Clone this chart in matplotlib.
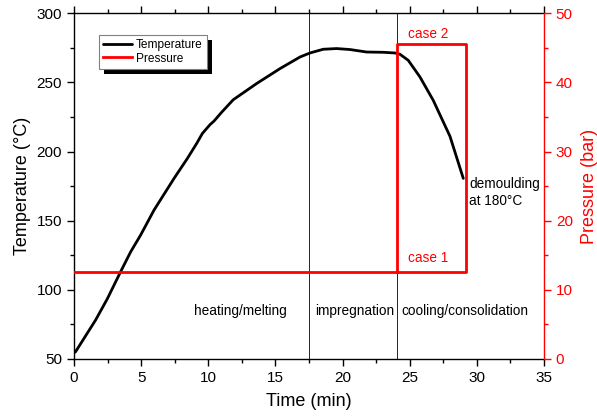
import matplotlib
matplotlib.use("Agg")
import matplotlib.pyplot as plt
from matplotlib.ticker import MultipleLocator
from matplotlib.patches import Rectangle

plt.rcParams['font.family'] = ['Liberation Sans', 'DejaVu Sans']

# Temperature curve (min, °C)
time_T = [0.0, 0.12, 1.61, 2.48, 3.47, 4.22, 4.96, 5.96, 7.45, 8.44, 9.13, 9.56, 10.13,
          10.42, 11.0, 11.86, 13.6, 15.34, 16.83, 17.57, 18.56, 19.56, 20.55, 21.79,
          23.03, 23.9, 24.27, 24.89, 25.76, 26.75, 28.0, 28.99]
temp = [54.5, 55.3, 78.2, 93.5, 113.1, 127.5, 139.6, 157.7, 180.6, 195.0, 205.8, 213.1,
        219.5, 222.0, 228.5, 237.5, 249.2, 260.0, 268.4, 271.3, 274.0, 274.5, 273.8,
        272.0, 271.8, 271.3, 270.4, 266.0, 254.0, 237.1, 211.0, 180.6]

# Pressure path (min, bar): case 1 line and case 2 box
time_P = [0, 29.17, 29.17, 24.03, 24.03]
pres = [12.6, 12.6, 45.5, 45.5, 12.6]

phase_bounds = [17.5, 24.07]
phase_labels = ["heating/melting", "impregnation", "cooling/consolidation"]
phase_x = [12.36, 20.9, 29.1]

fig = plt.figure(figsize=(5.97, 4.18), dpi=100)
ax = fig.add_axes([74/597, 1-359/418, (544-74)/597, (359-13.3)/418])
ax2 = ax.twinx()

ax.set_xlim(0, 35)
ax.set_ylim(50, 300)
ax2.set_ylim(0, 50)

for xb in phase_bounds:
    ax.axvline(xb, color='black', lw=0.6, zorder=1)

l1, = ax.plot(time_T, temp, color='black', lw=2.0, zorder=3,
              solid_joinstyle='round', solid_capstyle='round')
l2, = ax2.plot(time_P, pres, color='#ff0000', lw=2.0, zorder=3)

for lab, xp in zip(phase_labels, phase_x):
    ax.text(xp, 84.5, lab, ha='center', va='center', fontsize=9.8)

ax.text(29.45, 170.5, "demoulding\nat 180°C", ha='left', va='center', fontsize=9.8,
        linespacing=1.3)
ax2.text(26.4, 47.0, "case 2", ha='center', va='center', fontsize=9.8, color='#ff0000')
ax2.text(26.4, 14.6, "case 1", ha='center', va='center', fontsize=9.8, color='#ff0000')

ax.set_xlabel("Time (min)", fontsize=13, labelpad=6)
ax.set_ylabel("Temperature (°C)", fontsize=13, labelpad=4)
ax2.set_ylabel("Pressure (bar)", fontsize=13, color='#ff0000', labelpad=6)

ax.xaxis.set_major_locator(MultipleLocator(5))
ax.xaxis.set_minor_locator(MultipleLocator(2.5))
ax.yaxis.set_major_locator(MultipleLocator(50))
ax.yaxis.set_minor_locator(MultipleLocator(25))
ax2.yaxis.set_major_locator(MultipleLocator(10))
ax2.yaxis.set_minor_locator(MultipleLocator(5))

ax.tick_params(axis='x', which='both', direction='out', top=True, labelsize=11)
ax.tick_params(axis='y', which='both', direction='out', right=False, labelsize=11)
ax.tick_params(which='major', length=5, width=1)
ax.tick_params(which='minor', length=3, width=1)
ax2.tick_params(axis='y', which='both', direction='out', colors='#ff0000', labelsize=11)
ax2.tick_params(which='major', length=5, width=1)
ax2.tick_params(which='minor', length=3, width=1)

ax.spines['right'].set_visible(False)
ax2.spines['right'].set_color('#ff0000')
ax2.spines['left'].set_visible(False)
ax2.spines['top'].set_visible(False)
ax2.spines['bottom'].set_visible(False)
for s in ax.spines.values():
    s.set_linewidth(1.0)
ax2.spines['right'].set_linewidth(1.0)

leg = ax2.legend([l1, l2], ["Temperature", "Pressure"], loc='upper left',
                 bbox_to_anchor=((99 - 74) / 470, 1 - (35 - 13.3) / 345.7),
                 bbox_transform=ax.transAxes, borderaxespad=0,
                 fontsize=8.6, fancybox=False, framealpha=1, edgecolor='#808080',
                 handlelength=2.4, handletextpad=0.35, borderpad=0.35, labelspacing=0.12)
leg.get_frame().set_linewidth(0.8)
leg.set_zorder(10)

fig.canvas.draw()
bb = leg.get_window_extent()
shadow = Rectangle((bb.x0 + 5, bb.y0 - 5), bb.width, bb.height, transform=None,
                   facecolor='black', edgecolor='none', zorder=9)
ax2.add_artist(shadow)

fig.savefig("out.png", dpi=100)
